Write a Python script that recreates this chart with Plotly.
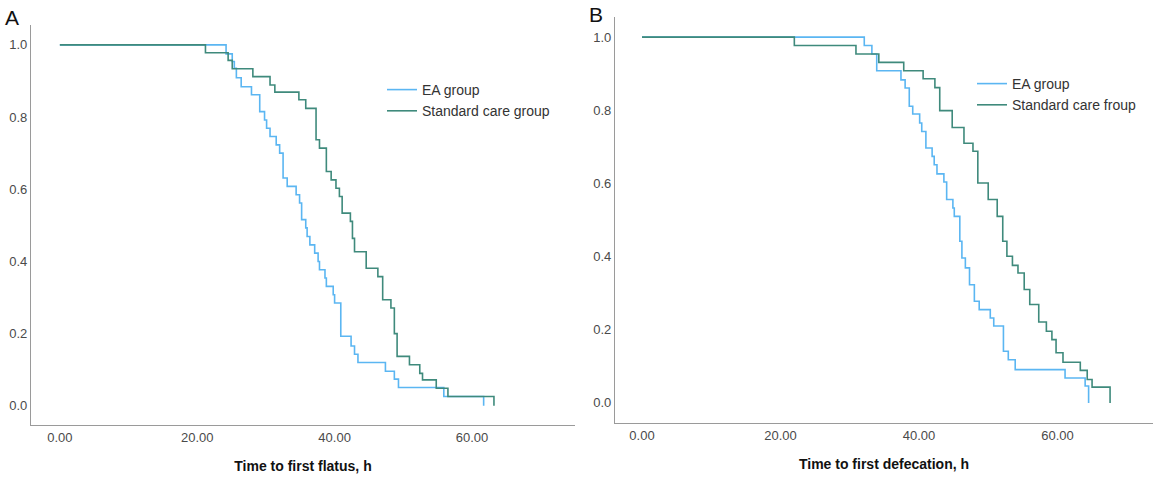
import plotly.graph_objects as go

# ---------------- data ----------------
# Panel A: time to first flatus (h)
a_ea_time = [0, 24.2, 25.1, 25.4, 25.7, 26.4, 27.9, 29.1, 29.8, 30.1,
             30.6, 31.5, 32.0, 32.5, 33.1, 34.4, 34.9, 35.2, 35.8, 36.0,
             36.4, 37.1, 37.6, 37.8, 38.6, 38.8, 39.8, 40.0, 40.9, 42.4,
             42.9, 43.4, 47.4, 48.7, 49.3, 55.9, 61.7]
a_ea_surv = [1.0, 0.975, 0.954, 0.935, 0.909, 0.884, 0.862, 0.815, 0.792, 0.769,
             0.746, 0.723, 0.700, 0.631, 0.608, 0.585, 0.562, 0.516, 0.493, 0.469,
             0.446, 0.423, 0.400, 0.377, 0.354, 0.331, 0.308, 0.285, 0.193, 0.166,
             0.143, 0.120, 0.096, 0.074, 0.051, 0.026, 0.0]

a_sc_time = [0, 21.2, 24.5, 25.1, 28.1, 30.6, 31.3, 34.8, 35.8, 37.3,
             37.8, 38.8, 39.5, 40.2, 40.7, 41.1, 42.3, 42.6, 42.9, 44.6,
             46.3, 47.0, 48.2, 48.7, 49.1, 50.9, 52.4, 52.8, 54.8, 56.5, 63.2]
a_sc_surv = [1.0, 0.978, 0.957, 0.934, 0.912, 0.889, 0.869, 0.848, 0.824, 0.737,
             0.714, 0.649, 0.626, 0.603, 0.580, 0.534, 0.511, 0.464, 0.427, 0.381,
             0.358, 0.294, 0.271, 0.200, 0.137, 0.114, 0.090, 0.072, 0.049, 0.026, 0.0]

# Panel B: time to first defecation (h)
b_ea_time = [0, 32.1, 33.2, 33.9, 37.4, 38.0, 38.6, 39.1, 40.1, 40.4,
             41.0, 41.9, 42.2, 42.6, 43.6, 44.0, 44.9, 45.1, 45.9, 46.2,
             46.7, 47.3, 48.0, 48.7, 50.3, 50.8, 52.2, 52.9, 53.9, 61.1,
             64.0, 64.5]
b_ea_surv = [1.0, 0.977, 0.954, 0.908, 0.883, 0.861, 0.811, 0.790, 0.765, 0.742,
             0.697, 0.674, 0.651, 0.626, 0.604, 0.556, 0.533, 0.510, 0.442, 0.396,
             0.369, 0.323, 0.278, 0.255, 0.232, 0.210, 0.141, 0.118, 0.091, 0.068,
             0.046, 0.0]

b_sc_time = [0, 22.0, 30.9, 34.2, 37.8, 40.6, 42.3, 43.0, 44.8, 46.5,
             47.8, 48.5, 50.0, 51.3, 52.1, 52.7, 53.5, 54.3, 55.2, 56.0,
             57.3, 58.4, 59.2, 59.8, 60.8, 63.3, 64.3, 65.0, 67.6]
b_sc_surv = [1.0, 0.977, 0.954, 0.931, 0.908, 0.886, 0.862, 0.799, 0.753, 0.710,
             0.688, 0.601, 0.556, 0.510, 0.442, 0.401, 0.376, 0.355, 0.310, 0.269,
             0.221, 0.196, 0.173, 0.137, 0.111, 0.089, 0.064, 0.043, 0.0]

names_a = ["EA group", "Standard care group"]
names_b = ["EA group", "Standard care froup"]
x_titles = ["Time to first flatus, h", "Time to first defecation, h"]
panel_labels = ["A", "B"]
x_tickvals = [0, 20, 40, 60]
y_tickvals = [0.0, 0.2, 0.4, 0.6, 0.8, 1.0]

# ---------------- styling ----------------
W, H = 1156, 477
BLUE = "#5bb6f2"
GREEN = "#3f8a7c"
AXIS = "#9a9a9a"
FONT = "Liberation Sans, Arial, sans-serif"

fig = go.Figure()

def px_x(p):
    return p / W

def px_y(p):
    return (H - p) / H

fig.add_trace(go.Scatter(x=a_ea_time, y=a_ea_surv, mode="lines", line_shape="hv",
                         line=dict(color=BLUE, width=1.6), name=names_a[0],
                         xaxis="x", yaxis="y", legend="legend"))
fig.add_trace(go.Scatter(x=a_sc_time, y=a_sc_surv, mode="lines", line_shape="hv",
                         line=dict(color=GREEN, width=1.6), name=names_a[1],
                         xaxis="x", yaxis="y", legend="legend"))
fig.add_trace(go.Scatter(x=b_ea_time, y=b_ea_surv, mode="lines", line_shape="hv",
                         line=dict(color=BLUE, width=1.6), name=names_b[0],
                         xaxis="x2", yaxis="y2", legend="legend2"))
fig.add_trace(go.Scatter(x=b_sc_time, y=b_sc_surv, mode="lines", line_shape="hv",
                         line=dict(color=GREEN, width=1.6), name=names_b[1],
                         xaxis="x2", yaxis="y2", legend="legend2"))

xcommon = dict(showgrid=False, zeroline=False, showline=True, linecolor=AXIS,
               linewidth=1.2, ticks="", tickvals=x_tickvals, tickformat=".2f",
               automargin=False,
               tickfont=dict(family=FONT, size=13, color="#4a4a4a"),
               title_font=dict(family=FONT, size=14, color="#111111"),
               title_standoff=17)
ycommon = dict(showgrid=False, zeroline=False, showline=True, linecolor=AXIS,
               linewidth=1.2, ticks="", tickvals=y_tickvals, tickformat=".1f",
               automargin=False,
               tickfont=dict(family=FONT, size=13, color="#4a4a4a"))

fig.update_layout(
    width=W, height=H,
    margin=dict(l=0, r=0, t=0, b=0, autoexpand=False),
    paper_bgcolor="white", plot_bgcolor="white",
    font=dict(family=FONT),
    xaxis=dict(domain=[px_x(31), px_x(575)], range=[-4.2, 75.0], anchor="y",
               title_text="<b>" + x_titles[0] + "</b>", **xcommon),
    yaxis=dict(domain=[px_y(425), px_y(25)], range=[-0.053, 1.055], anchor="x", **ycommon),
    xaxis2=dict(domain=[px_x(615), px_x(1153)], range=[-3.9, 73.8], anchor="y2",
                title_text="<b>" + x_titles[1] + "</b>", **xcommon),
    yaxis2=dict(domain=[px_y(423), px_y(17)], range=[-0.055, 1.055], anchor="x2", **ycommon),
    legend=dict(x=px_x(382), y=px_y(74), xanchor="left", yanchor="top",
                font=dict(family=FONT, size=14, color="#333333"),
                bgcolor="rgba(0,0,0,0)", itemwidth=30, tracegroupgap=0),
    legend2=dict(x=px_x(972), y=px_y(68), xanchor="left", yanchor="top",
                 font=dict(family=FONT, size=14, color="#333333"),
                 bgcolor="rgba(0,0,0,0)", itemwidth=30, tracegroupgap=0),
    showlegend=True,
)

fig.add_annotation(text=panel_labels[0], x=px_x(3), y=px_y(4), xref="paper", yref="paper",
                   xanchor="left", yanchor="top", showarrow=False,
                   font=dict(family=FONT, size=21, color="#111111"))
fig.add_annotation(text=panel_labels[1], x=px_x(587), y=px_y(1), xref="paper", yref="paper",
                   xanchor="left", yanchor="top", showarrow=False,
                   font=dict(family=FONT, size=21, color="#111111"))

fig.write_html("out.html",
               config={"displayModeBar": False},
               post_script="document.body.style.margin='0px';"
                           "document.body.style.overflow='hidden';")
